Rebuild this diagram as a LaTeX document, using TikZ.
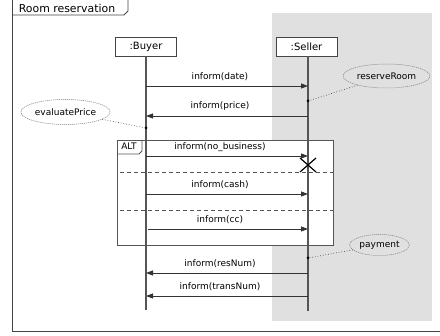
\documentclass[tikz,border=0pt]{standalone}
\usepackage{fontspec}
\setmainfont{DejaVu Sans}
\usetikzlibrary{arrows.meta,calc}
\definecolor{bandgray}{HTML}{E0E0E0}
\definecolor{framegray}{HTML}{444444}
\definecolor{linegray}{HTML}{555555}
\tikzset{
  objbox/.style={draw=framegray, line width=0.9pt, fill=white, minimum width=61pt, minimum height=19pt, inner sep=0pt, font=\fontsize{10}{12}\selectfont},
  lifeline/.style={draw=linegray, line width=1.2pt},
  msgline/.style={draw=black!80, line width=0.8pt, -{Triangle[length=7pt,width=5pt]}},
  msglabel/.style={font=\fontsize{9}{11}\selectfont, inner sep=0pt},
  notebubble/.style={ellipse, draw=gray, dashed, dash pattern=on 1.2pt off 0.8pt, line width=0.5pt, fill=bandgray, inner sep=1pt, font=\fontsize{9}{11}\selectfont},
  notelink/.style={draw=black!70, dotted, line width=0.7pt},
  anchordot/.style={circle, fill=black, inner sep=0pt, minimum size=3pt},
  divider/.style={draw=linegray, dashed, dash pattern=on 4pt off 3pt, line width=0.8pt},
}
\usetikzlibrary{shapes.geometric}
\begin{document}
\begin{tikzpicture}[x=1pt,y=-1pt]
  \useasboundingbox (0,0) rectangle (440,336);
  % shaded region behind the seller
  \fill[bandgray] (272,13) rectangle (432,321);
  % outer frame and its title tab
  \draw[framegray, line width=0.9pt] (12,-2) -- (12,331) -- (442,331);
  \draw[framegray, line width=0.9pt] (12,15) -- (124,15) -- (128,11) -- (128,-2);
  \node[font=\fontsize{10.9}{13}\selectfont, inner sep=0pt] (title) at (67,8) {Room reservation};

  % participants
  \node[objbox] (buyer) at (146,46.5) {:Buyer};
  \node[objbox] (seller) at (306.5,46.5) {:Seller};
  \coordinate (buyerEnd) at (146,310);
  \coordinate (sellerEnd) at (308,311);

  % combined fragment
  \draw[linegray, line width=0.9pt, fill=white] (117,140) rectangle (333,245);
  \draw[linegray, line width=0.9pt] (117,154) -- (139,154) -- (142,151) -- (142,140);
  \node[font=\fontsize{9}{11}\selectfont, inner sep=0pt] (alt) at (129,146.5) {ALT};
  \draw[divider] (120,172) -- (333,172);
  \draw[divider] (120,210) -- (333,210);

  % lifelines
  \draw[lifeline] (buyer.south -| buyerEnd) -- (buyerEnd);
  \draw[lifeline] (seller.south -| sellerEnd) -- (sellerEnd);

  % message end points on the lifelines
  \foreach \n/\y in {date/86, price/116, nobiz/156, cash/194, cc/229, res/273, trans/296}{
    \coordinate (b-\n) at (146,\y);
    \coordinate (s-\n) at (308,\y);
  }
  \coordinate (b-cc) at (148,229);

  % messages
  \draw[msgline] (b-date) -- (s-date);
  \node[msglabel] at (220,77) {inform(date)};
  \draw[msgline] (s-price) -- (b-price);
  \node[msglabel] at (220,106) {inform(price)};
  \draw[msgline] (b-nobiz) -- (s-nobiz);
  \node[msglabel] at (220,147.5) {inform(no\_business)};
  \draw[msgline] (b-cash) -- (s-cash);
  \node[msglabel] at (220,185) {inform(cash)};
  \draw[msgline] (b-cc) -- (s-cc);
  \node[msglabel] at (220,220) {inform(cc)};
  \draw[msgline] (s-res) -- (b-res);
  \node[msglabel] at (220,264) {inform(resNum)};
  \draw[msgline] (s-trans) -- (b-trans);
  \node[msglabel] at (220,287) {inform(transNum)};

  % destruction mark
  \coordinate (xmark) at (308,165);
  \draw[black, line width=1.2pt] ($(xmark)+(-8,-7)$) -- ($(xmark)+(8,7)$)
                                 ($(xmark)+(-8,7)$) -- ($(xmark)+(8,-7)$);

  % notes attached to the lifelines
  \node[notebubble, minimum width=81pt, minimum height=24pt] (reserve) at (386.5,76) {reserveRoom};
  \node[anchordot] (reserveDot) at (308,101) {};
  \draw[notelink] (reserve) -- (reserveDot);

  \node[notebubble, fill=white, minimum width=79pt, minimum height=25pt] (evaluate) at (65.5,112) {evaluatePrice};
  \node[anchordot] (evaluateDot) at (146,128) {};
  \draw[notelink] (evaluate) -- (evaluateDot);

  \node[notebubble, minimum width=59pt, minimum height=21pt] (payment) at (379.5,245) {payment};
  \node[anchordot] (paymentDot) at (308,258) {};
  \draw[notelink] (payment) -- (paymentDot);
\end{tikzpicture}
\end{document}
